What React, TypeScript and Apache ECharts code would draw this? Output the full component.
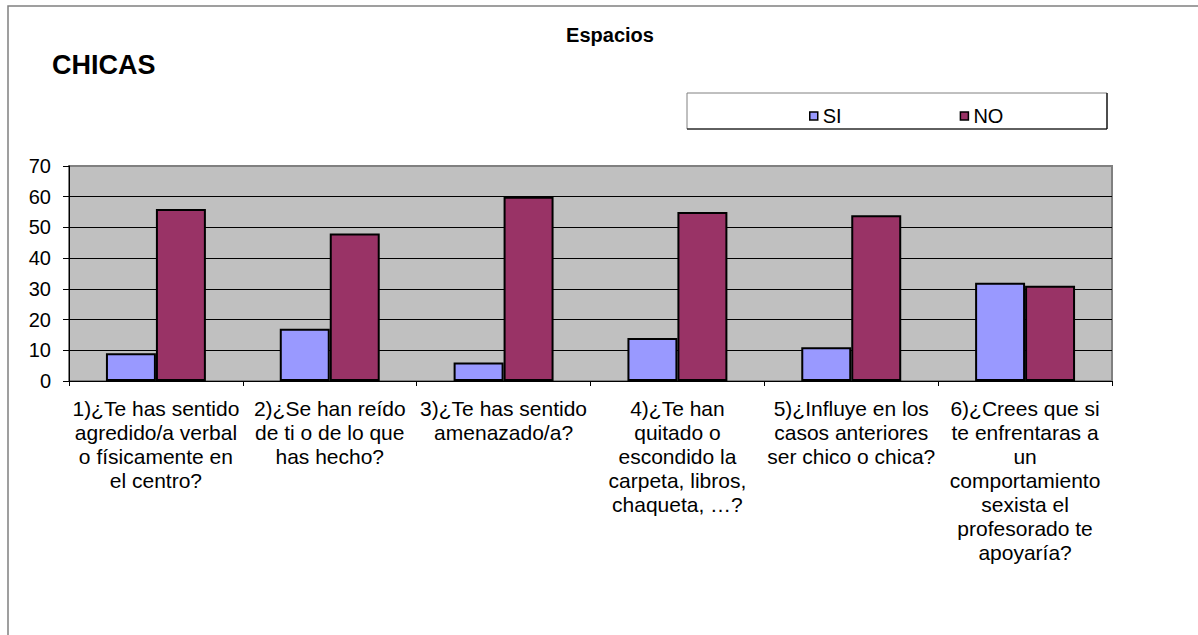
import React, { useEffect, useRef } from "react";
import * as echarts from "echarts";

const categories = [
  "1)¿Te has sentido\nagredido/a verbal\no físicamente en\nel centro?",
  "2)¿Se han reído\nde ti o de lo que\nhas hecho?",
  "3)¿Te has sentido\namenazado/a?",
  "4)¿Te han\nquitado o\nescondido la\ncarpeta, libros,\nchaqueta, …?",
  "5)¿Influye en los\ncasos anteriores\nser chico o chica?",
  "6)¿Crees que si\nte enfrentaras a\nun\ncomportamiento\nsexista el\nprofesorado te\napoyaría?",
];
const siValues = [9, 17, 6, 14, 11, 32];
const noValues = [56, 48, 60, 55, 54, 31];
const seriesNames = ["SI", "NO"];
const yTicks = { min: 0, max: 70, interval: 10 };

const FONT = "'Liberation Sans', Arial, sans-serif";

export default function App() {
  const ref = useRef<HTMLDivElement>(null);
  useEffect(() => {
    if (!ref.current) return;
    const chart = echarts.init(ref.current, undefined, { renderer: "svg" });
    chart.setOption({
      animation: false,
      backgroundColor: "#ffffff",
      textStyle: { fontFamily: FONT, color: "#000" },
      graphic: [
        {
          type: "rect",
          shape: { x: 8, y: 6, width: 1400, height: 800 },
          style: { fill: "none", stroke: "#808080", lineWidth: 1.5 },
          silent: true,
        },
        {
          type: "rect",
          shape: { x: 687, y: 93, width: 420, height: 36 },
          style: { fill: "none", stroke: "#808080", lineWidth: 1 },
          silent: true,
        },
        {
          type: "line",
          shape: { x1: 687, y1: 129, x2: 1107, y2: 129 },
          style: { stroke: "#000", lineWidth: 1.2 },
          silent: true,
        },
        {
          type: "line",
          shape: { x1: 1107, y1: 93, x2: 1107, y2: 129 },
          style: { stroke: "#000", lineWidth: 1.2 },
          silent: true,
        },
        {
          type: "text",
          x: 610,
          y: 35,
          style: {
            text: "Espacios",
            font: `bold 20px ${FONT}`,
            fill: "#000",
            textAlign: "center",
            textVerticalAlign: "middle",
          },
        },
        {
          type: "text",
          x: 52,
          y: 65,
          style: {
            text: "CHICAS",
            font: `bold 27px ${FONT}`,
            fill: "#000",
            textAlign: "left",
            textVerticalAlign: "middle",
          },
        },
      ],
      legend: {
        data: seriesNames,
        left: 804,
        top: 101,
        itemWidth: 8,
        itemHeight: 8,
        itemGap: 118,
        icon: "rect",
        itemStyle: { borderColor: "#000", borderWidth: 1.5 },
        textStyle: { fontSize: 20, lineHeight: 20, fontFamily: FONT, color: "#000" },
      },
      grid: {
        left: 69,
        top: 166,
        width: 1043,
        height: 215,
        show: true,
        backgroundColor: "#C0C0C0",
        borderColor: "#808080",
        borderWidth: 2,
      },
      xAxis: {
        type: "category",
        data: categories,
        axisLine: { show: true, lineStyle: { color: "#000", width: 1 } },
        axisTick: { show: true, length: 5, lineStyle: { color: "#000" } },
        axisLabel: {
          interval: 0,
          margin: 15,
          fontSize: 21,
          lineHeight: 24,
          fontFamily: FONT,
          color: "#000",
          align: "center",
        },
        splitLine: { show: false },
      },
      yAxis: {
        type: "value",
        min: yTicks.min,
        max: yTicks.max,
        interval: yTicks.interval,
        axisLine: { show: true, lineStyle: { color: "#000", width: 1 } },
        axisTick: { show: true, length: 6, lineStyle: { color: "#000" } },
        axisLabel: { margin: 18, fontSize: 20, fontFamily: FONT, color: "#000" },
        splitLine: {
          show: true,
          lineStyle: {
            color: ["#808080", "#000", "#000", "#000", "#000", "#000", "#000", "#808080"],
            width: 1,
          },
        },
      },
      series: [
        {
          name: seriesNames[0],
          type: "bar",
          data: siValues,
          barGap: "0%",
          barCategoryGap: "42.5%",
          itemStyle: { color: "#9999FF", borderColor: "#000", borderWidth: 2 },
        },
        {
          name: seriesNames[1],
          type: "bar",
          data: noValues,
          barGap: "0%",
          barCategoryGap: "42.5%",
          itemStyle: { color: "#993366", borderColor: "#000", borderWidth: 2 },
        },
      ],
    });
    return () => chart.dispose();
  }, []);
  return (
    <div
      ref={ref}
      style={{ position: "fixed", left: 0, top: 0, width: 1198, height: 635 }}
    />
  );
}
